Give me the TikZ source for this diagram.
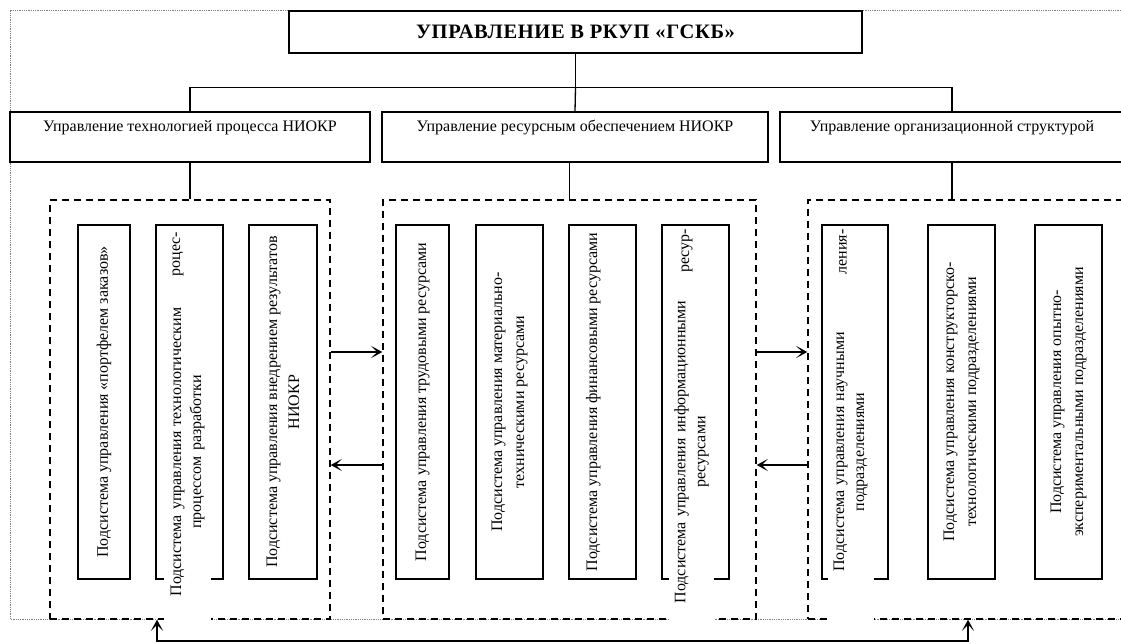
\documentclass[tikz,border=0pt]{standalone}
\usepackage{fontspec}
\setmainfont{Liberation Serif}
\usetikzlibrary{arrows.meta}

\begin{document}
\begin{tikzpicture}
    [x=1pt,y=-1pt,
     txt/.style={font=\fontsize{16}{22}\selectfont},
     headbox/.style={draw,line width=1.5pt,inner sep=0pt,align=center,txt},
     subbox/.style={draw,line width=1.5pt,rotate=90,minimum width=354pt,inner sep=0pt,align=center,txt},
     overtext/.style={fill=white,rotate=90,inner sep=2pt,align=center,text width=340pt,font=\fontsize{16}{20}\selectfont},
     piece/.style={rotate=90,inner sep=0pt,txt},
     group/.style={draw,line width=1.5pt,dash pattern=on 7pt off 5pt,inner sep=0pt,minimum height=419pt},
     link/.style={line width=1.3pt},
     arr/.style={link,-{Stealth[length=11pt,width=12pt,inset=6pt]}},
     arrboth/.style={link,{Stealth[length=11pt,width=12pt,inset=6pt]}-{Stealth[length=11pt,width=12pt,inset=6pt]}}]
    \useasboundingbox (0,0) rectangle (1121,644);
    \clip (0,0) rectangle (1121,644);

    % page frame
    \draw[gray,line width=0.8pt,densely dotted] (1121,10) -- (10,10) -- (10,619) -- (1121,619);

    % top
    \node[headbox,minimum width=573pt,minimum height=42pt,
          font=\fontsize{20.5}{22}\selectfont\bfseries\addfontfeature{LetterSpace=3}] (top) at (575.5,32) {УПРАВЛЕНИЕ В РКУП «ГСКБ»};

    % managers
    \node[headbox,minimum width=360pt,minimum height=50pt] (m1) at (190,137) {Управление технологией процесса НИОКР\\ \mbox{}};
    \node[headbox,minimum width=386pt,minimum height=50pt] (m2) at (575,137) {Управление ресурсным обеспечением НИОКР\\ \mbox{}};
    \node[headbox,minimum width=344pt,minimum height=50pt] (m3) at (952,137) {Управление организационной структурой\\ \mbox{}};

    % groups
    \node[group,minimum width=280pt] (g1) at (190,409.5) {};
    \node[group,minimum width=373pt] (g2) at (569.5,409.5) {};
    \node[group,minimum width=332pt] (g3) at (974,409.5) {};

    % subsystems
    \node[subbox,minimum height=52pt] (a1) at (104,402) {Подсистема управления «портфелем заказов»};
    \node[subbox,minimum height=67pt] (a2) at (189.5,402) {};
    \node[subbox,minimum height=68pt] (a3) at (283,402) {Подсистема управления внедрением результатов\\НИОКР};

    \node[subbox,minimum height=53pt] (b1) at (422.5,402) {Подсистема управления трудовыми ресурсами};
    \node[subbox,minimum height=67pt] (b2) at (509.5,402) {Подсистема управления материально-\\техническими ресурсами};
    \node[subbox,minimum height=67pt] (b3) at (602.5,402) {Подсистема управления финансовыми ресурсами\\ \mbox{}};
    \node[subbox,minimum height=67pt] (b4) at (695.5,402) {};

    \node[subbox,minimum height=66pt] (c1) at (855,402) {};
    \node[subbox,minimum height=67pt] (c2) at (961.5,402) {Подсистема управления конструкторско-\\технологическими подразделениями};
    \node[subbox,minimum height=67pt] (c3) at (1068.5,402) {Подсистема управления опытно-\\экспериментальными подразделениями};

    % texts running out of their boxes
    \node[overtext,minimum height=47pt] (a2t) at (187.5,452) {Подсистема управления технологическим\\процессом разработки};
    \node[piece] (a2p) at (178,254) {роцес-};
    \node[overtext,minimum height=45pt] (b4t) at (691.5,452) {Подсистема управления информационными\\ресурсами};
    \node[piece] (b4p) at (687,251) {ресур-};
    \node[overtext,minimum height=46pt] (c1t) at (850.5,452) {Подсистема управления научными\\подразделениями};
    \node[piece] (c1p) at (843,252) {ления-};

    % links
    \draw[link] (top.south) -- ++(0,34) coordinate (bus);
    \draw[link] (m1.north) |- (bus) -| (m3.north);
    \draw[link] (bus) -- (m2.north);
    \draw[link] (m1.south) -- (g1.north);
    \draw[link] (g2.north) -- (g2.north |- m2.south);
    \draw[link] (m3.south) -- (m3.south |- g3.north);

    \draw[arr] ([yshift=57.5pt]g1.east) -- ([yshift=57.5pt]g2.west);
    \draw[arr] ([yshift=-55.5pt]g2.west) -- ([yshift=-55.5pt]g1.east);
    \draw[arr] ([yshift=57.5pt]g2.east) -- ([yshift=57.5pt]g3.west);
    \draw[arr] ([yshift=-55.5pt]g3.west) -- ([yshift=-55.5pt]g2.east);

    \coordinate (low1) at (157,641);
    \coordinate (low3) at (968,641);
    \draw[arrboth] (g1.south -| low1) -- (low1) -- (low3) -- (g3.south -| low3);
\end{tikzpicture}
\end{document}
